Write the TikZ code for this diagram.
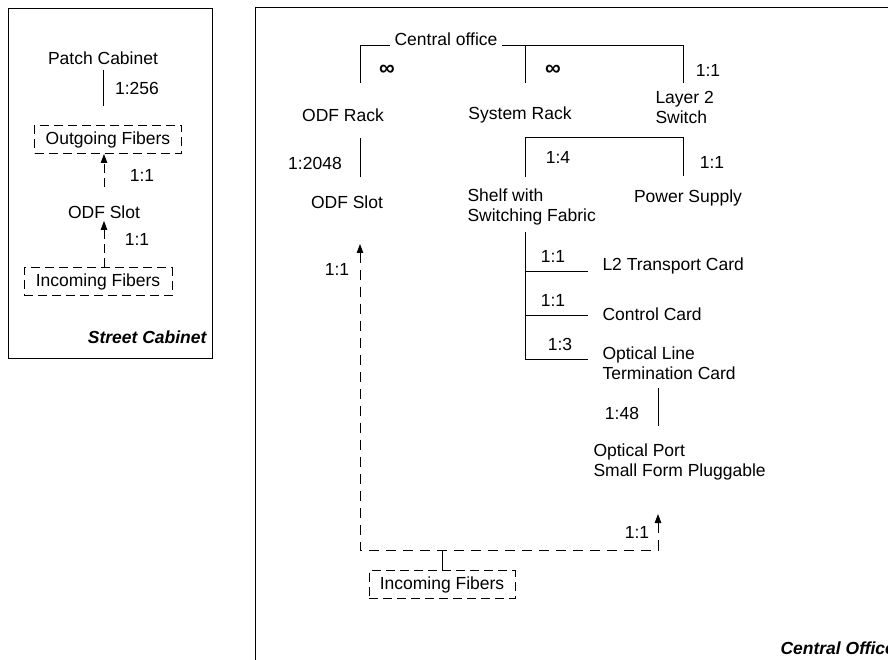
\documentclass[tikz,border=0pt]{standalone}
\usepackage{fontspec}
\setmainfont{Liberation Sans}
\usetikzlibrary{arrows.meta}
\tikzset{
  lbl/.style={inner sep=0pt, font=\fontsize{17.5}{20}\selectfont, align=left},
  ttl/.style={lbl, font=\fontsize{17.5}{20}\selectfont\bfseries\itshape},
  inf/.style={lbl, font=\fontsize{22}{22}\selectfont\bfseries},
  dsh/.style={dash pattern=on 10pt off 7pt},
  dshs/.style={dash pattern=on 9pt off 5pt},
  dbox/.style={lbl, draw, dshs, minimum height=28pt},
  arr/.style={-{Triangle[length=9pt,width=6.5pt]}},
}
\begin{document}
\begin{tikzpicture}[x=1pt,y=-1pt,line width=1pt]
\useasboundingbox (0,0) rectangle (888,660);
\clip (0,0) rectangle (888,660);
\fill[white] (0,0) rectangle (888,660);
% ---------- Street cabinet ----------
\draw (8,9) rectangle (212,358);
\node[lbl] (pc) at (103,58) {Patch Cabinet};
\node[dbox, minimum width=147pt] (outL) at (108,139.5) {Outgoing Fibers};
\node[lbl] (odfL) at (104,212) {ODF Slot};
\node[dbox, minimum width=148pt] (inL) at (98,281.5) {Incoming Fibers};
\node[lbl] at (137,88) {1:256};
\node[lbl] at (142,175) {1:1};
\node[lbl] at (137,239) {1:1};
\node[ttl, anchor=east] at (207,337) {Street Cabinet};
\draw[shorten <=5pt, shorten >=19pt] (pc.south) -- (pc.south |- outL.north);
\draw[dshs, arr, shorten <=18pt] (odfL.north) -- (odfL.north |- outL.south);
\draw[dshs, arr, shorten >=2pt] (odfL.south |- inL.north) -- (odfL.south);
% ---------- Central office ----------
\draw (255,8) rectangle (950,720);
\node[lbl, anchor=base, inner xsep=4pt] (co) at (446,46) {Central office};
\coordinate (jOdf) at (360,83);
\coordinate (jSys) at (525,83);
\coordinate (jL2) at (683,83);
\draw (co.base west) -| (jOdf);
\draw (co.base east) -| (jL2);
\draw (jSys) -- (jSys |- co.base);
\node[inf] at (387,70) {∞};
\node[inf] at (553,70) {∞};
\node[lbl] at (708,70) {1:1};
\node[lbl] (odfRack) at (343,115) {ODF Rack};
\node[lbl] (sysRack) at (520,115) {System Rack};
\node[lbl, anchor=west] (l2sw) at (655,107) {Layer 2\\Switch};
% ODF rack -> ODF slot
\coordinate (oA) at (360,138);
\coordinate (oB) at (360,177);
\draw (oA) -- (oB);
\node[lbl] at (315,163) {1:2048};
\node[lbl] (odfSlot) at (347,202) {ODF Slot};
% System rack -> shelf, power
\coordinate (sA) at (525,177);
\coordinate (sTop) at (525,138);
\coordinate (sB) at (683,176);
\draw (sA) -- (sTop) -| (sB);
\node[lbl] at (558,157) {1:4};
\node[lbl] at (712,162) {1:1};
\node[lbl, anchor=west] (shelf) at (467,207) {Shelf with\\Switching Fabric};
\node[lbl] (power) at (688,198) {Power Supply};
% Shelf -> cards
\coordinate (cTop) at (525,232);
\coordinate (c1) at (588,271);
\coordinate (c2) at (588,315);
\coordinate (c3) at (588,359);
\draw (cTop) |- (c3);
\draw (cTop |- c1) -- (c1);
\draw (cTop |- c2) -- (c2);
\node[lbl] at (553,256) {1:1};
\node[lbl] at (553,300) {1:1};
\node[lbl] at (560,344) {1:3};
\node[lbl, anchor=west] (l2tc) at (602,266) {L2 Transport Card};
\node[lbl, anchor=west] (ctrl) at (602,314) {Control Card};
\node[lbl, anchor=west] (olt) at (602,363) {Optical Line\\Termination Card};
% OLT -> SFP
\coordinate (pA) at (658,388);
\coordinate (pB) at (658,426);
\draw (pA) -- (pB);
\node[lbl] at (622,413) {1:48};
\node[lbl, anchor=west] (sfp) at (593,462) {Optical Port\\Small Form Pluggable};
% Fibers
\coordinate (tipL) at (360,244);
\coordinate (cornL) at (360,550);
\coordinate (cornR) at (658,550);
\coordinate (tipR) at (658,514);
\draw[dsh, {Triangle[length=9pt,width=6.5pt]}-{Triangle[length=9pt,width=6.5pt]}] (tipL) -- (cornL) -- (cornR) -- (tipR);
\node[lbl] at (337,269) {1:1};
\node[lbl] at (637,532) {1:1};
\node[dbox, minimum width=146pt] (inR) at (442,584.5) {Incoming Fibers};
\draw (inR.north) -- (inR.north |- cornL);
\node[ttl, anchor=west] at (780,648) {Central Office};
\end{tikzpicture}
\end{document}
